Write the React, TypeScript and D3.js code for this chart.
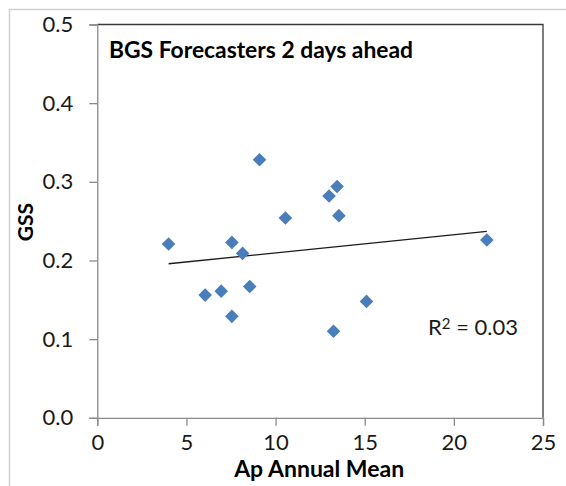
import React, { useEffect, useRef } from 'react';
import * as d3 from 'd3';

// Ap annual mean vs GSS (BGS forecasters, 2 days ahead)
const apMean = [4.0, 9.1, 7.55, 8.15, 10.55, 13.0, 13.45, 13.55, 6.05, 6.95, 8.55, 7.55, 13.25, 15.1, 21.85];
const gss = [0.221, 0.328, 0.223, 0.209, 0.254, 0.282, 0.294, 0.257, 0.156, 0.161, 0.167, 0.129, 0.110, 0.148, 0.226];

const xTicks = [0, 5, 10, 15, 20, 25];
const yTicks = [0, 0.1, 0.2, 0.3, 0.4, 0.5];

const chartTitle = 'BGS Forecasters 2 days ahead';
const xTitle = 'Ap Annual Mean';
const yTitle = 'GSS';
const rSquaredLabel = '0.03';

const FONT = 'Lato, "Open Sans", sans-serif';

const App = () => {
  const svgRef = useRef<SVGSVGElement>(null);

  useEffect(() => {
    const width = 566;
    const height = 486;
    const svg = d3.select(svgRef.current);
    svg.selectAll('*').remove();
    svg.attr('width', width).attr('height', height);

    const left = 97.3, right = 543, top = 24.5, bottom = 417.8;

    const x = d3.scaleLinear().domain([0, 25]).range([left, right]);
    const y = d3.scaleLinear().domain([0, 0.5]).range([bottom, top]);

    svg.append('rect').attr('width', width).attr('height', height).attr('fill', '#fff');

    // outer chart border (cropped at right/bottom)
    svg.append('rect')
      .attr('x', 9.5).attr('y', 9.5)
      .attr('width', width + 10).attr('height', height + 10)
      .attr('fill', 'none').attr('stroke', '#d0d0d0').attr('stroke-width', 1.5);

    // plot area top/right border
    svg.append('path')
      .attr('d', `M${left},${top}H${right}V${bottom}`)
      .attr('fill', 'none').attr('stroke', '#3a3a3a').attr('stroke-width', 1.3);

    // X axis
    const xAxis = svg.append('g')
      .attr('transform', `translate(0,${bottom})`)
      .call(d3.axisBottom(x).tickValues(xTicks).tickSize(8).tickPadding(9).tickFormat(d3.format('d')));
    xAxis.select('.domain').attr('stroke', '#8a8a8a').attr('stroke-width', 1.3);
    xAxis.selectAll('.tick line').attr('stroke', '#8a8a8a').attr('stroke-width', 1.3);
    xAxis.selectAll('.tick text')
      .attr('font-family', FONT).attr('font-size', 22).attr('fill', '#1a1a1a');

    // Y axis
    const yAxis = svg.append('g')
      .attr('transform', `translate(${left},0)`)
      .call(d3.axisLeft(y).tickValues(yTicks).tickSize(8).tickPadding(16).tickFormat(d3.format('.1f')));
    yAxis.select('.domain').attr('stroke', '#8a8a8a').attr('stroke-width', 1.3);
    yAxis.selectAll('.tick line').attr('stroke', '#8a8a8a').attr('stroke-width', 1.3);
    yAxis.selectAll('.tick text')
      .attr('font-family', FONT).attr('font-size', 22).attr('fill', '#1a1a1a');

    // linear trendline (least squares)
    const n = apMean.length;
    const mx = d3.mean(apMean) as number;
    const my = d3.mean(gss) as number;
    let sxy = 0, sxx = 0;
    for (let i = 0; i < n; i++) {
      sxy += (apMean[i] - mx) * (gss[i] - my);
      sxx += (apMean[i] - mx) ** 2;
    }
    const slope = sxy / sxx;
    const icpt = my - slope * mx;
    const [x0, x1] = d3.extent(apMean) as [number, number];
    svg.append('line')
      .attr('x1', x(x0)).attr('y1', y(icpt + slope * x0))
      .attr('x2', x(x1)).attr('y2', y(icpt + slope * x1))
      .attr('stroke', '#1a1a1a').attr('stroke-width', 1.3);

    // diamond markers
    const s = 6.8;
    svg.append('g').selectAll('path')
      .data(apMean.map((d, i) => [d, gss[i]]))
      .enter()
      .append('path')
      .attr('d', d => {
        const cx = x(d[0]), cy = y(d[1]);
        return `M${cx},${cy - s}L${cx + s},${cy}L${cx},${cy + s}L${cx - s},${cy}Z`;
      })
      .attr('fill', '#4a7ebb');

    // texts
    svg.append('text')
      .attr('x', 109).attr('y', 58)
      .attr('font-family', FONT).attr('font-weight', 'bold').attr('font-size', 23)
      .attr('textLength', 304).attr('lengthAdjust', 'spacingAndGlyphs')
      .attr('fill', '#000').text(chartTitle);

    const r2 = svg.append('text')
      .attr('x', 428).attr('y', 335)
      .attr('font-family', FONT).attr('font-size', 22).attr('fill', '#1a1a1a');
    r2.append('tspan').text('R');
    r2.append('tspan').attr('font-size', 15).attr('dy', -6).text('2');
    r2.append('tspan').attr('dy', 6).text(` = ${rSquaredLabel}`);

    svg.append('text')
      .attr('x', (left + right) / 2 - 1).attr('y', 477)
      .attr('text-anchor', 'middle')
      .attr('font-family', FONT).attr('font-weight', 'bold').attr('font-size', 23)
      .attr('fill', '#000').text(xTitle);

    svg.append('text')
      .attr('transform', `translate(33,222) rotate(-90)`)
      .attr('text-anchor', 'middle')
      .attr('font-family', FONT).attr('font-weight', 'bold').attr('font-size', 21)
      .attr('fill', '#000').text(yTitle);
  }, []);

  return (
    <div style={{ position: 'absolute', left: 0, top: 0 }}>
      <svg ref={svgRef} style={{ display: 'block' }}></svg>
    </div>
  );
};

export default App;
